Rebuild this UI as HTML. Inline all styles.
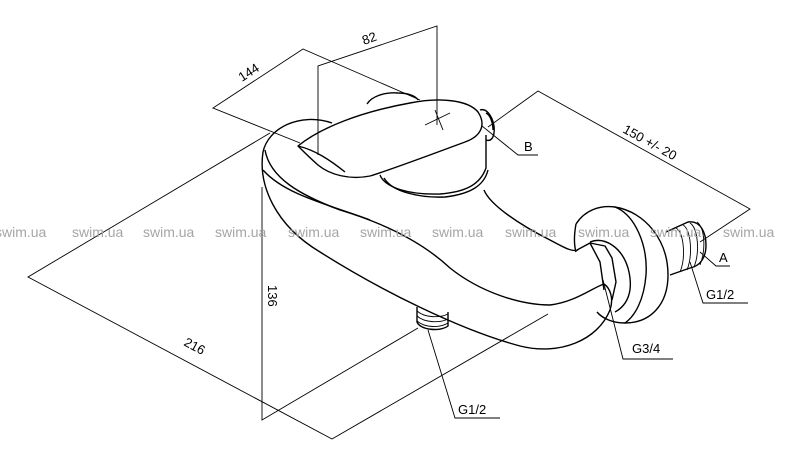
<!DOCTYPE html>
<html><head><meta charset="utf-8"><style>
html,body{margin:0;padding:0;background:#fff;}
svg{display:block;}
.d{fill:none;stroke:#000;stroke-width:0.9;}
.b{fill:none;stroke:#000;stroke-width:1.4;stroke-linejoin:round;}
.t{font-family:"Liberation Sans",sans-serif;font-size:13px;fill:#000;}
.w{font-family:"Liberation Sans",sans-serif;font-size:14px;fill:#a5a5a5;}
</style></head><body>
<svg width="800" height="464" viewBox="0 0 800 464" xmlns="http://www.w3.org/2000/svg">
<polyline class="d" points="300,143 213,108 303,49 420,100"/>
<polyline class="d" points="318,155 318,66 437,26 437,125"/>
<polyline class="d" points="488,127 538,91 750,209 700,242"/>
<polyline class="d" points="270,133 28,277 332,439 548,314"/>
<polyline class="d" points="262,187 262,420 418,328"/>
<polyline class="d" points="482,126 518,155 538,155"/>
<polyline class="d" points="700,252 716,266 730,266"/>
<polyline class="d" points="690,262 703,303 748,303"/>
<polyline class="d" points="603,280 623,359 673,359"/>
<polyline class="d" points="428,330 455,418 500,418"/>
<text class="t" transform="translate(242,82) rotate(-33)">144</text>
<text class="t" transform="translate(364,45) rotate(-20)">82</text>
<text class="t" transform="translate(622,132) rotate(29)">150 +/- 20</text>
<text class="t" transform="translate(183,345) rotate(28)">216</text>
<text class="t" transform="translate(268,285) rotate(90)">136</text>
<text class="t" x="524" y="151">B</text>
<text class="t" x="719" y="262">A</text>
<text class="t" x="706" y="299">G1/2</text>
<text class="t" x="632" y="353">G3/4</text>
<text class="t" x="458" y="414">G1/2</text>
<!-- body -->
<path class="b" d="M332,123 C300,112 268,128 263,152 C258,185 275,225 320,252 C380,290 460,330 520,346 C560,356 598,340 610,310 C614,298 610,288 604,284"/>
<path class="b" d="M265,150 C270,178 300,195 340,210 C380,222 420,240 450,268 C480,292 520,305 550,305 C575,302 592,288 604,284"/>
<path class="b" d="M263,170 C285,195 330,205 370,220"/>
<path class="b" d="M484,190 C490,205 520,225 550,240 C565,248 572,252 578,250"/>
<!-- handle -->
<path class="b" d="M298,146 C320,128 360,112 410,103 C440,97 468,100 478,112 C486,124 482,136 465,142 C430,155 390,170 370,176 C350,180 330,175 318,165 C310,158 302,150 298,146 Z"/>
<path class="b" d="M298,146 C315,150 330,160 345,172"/>
<path class="b" d="M367,104 C372,96 385,92 398,93 C408,93 416,96 418,100"/>
<path class="b" d="M380,175 C385,188 410,195 440,194 C465,192 480,185 486,168 L486,135"/>
<path class="b" d="M384,178 C392,192 420,198 445,197 C470,194 484,186 488,170"/>
<path class="d" d="M425,125 L450,113 M435,110 L443,130"/>
<path class="b" d="M480,110 C486,108 492,115 494,126 C495,136 492,142 486,140"/>
<path class="b" d="M486,113 C490,115 493,122 493,130"/>
<!-- right ring -->
<path class="b" d="M576,224 C585,210 600,205 615,207 C645,212 668,240 668,275 C668,305 650,323 625,323 C612,323 602,318 597,312"/>
<path class="b" d="M576,224 C574,235 574,245 576,252"/>
<path class="b" d="M615,207 C635,215 648,245 646,275 C644,300 635,316 625,323"/>
<path class="b" d="M590,242 C605,236 622,248 628,268 C634,290 628,305 615,312"/>
<path class="b" d="M577,250 L590,243 L605,246 L612,258 L616,282 L612,300"/>
<path class="b" d="M590,243 L600,262 L604,290"/>
<!-- right thread -->
<path class="b" d="M666,232 L688,222 C700,220 706,232 706,245 C706,258 700,266 690,268 L670,275"/>
<path class="d" d="M676,228 C684,232 686,258 680,272 M683,225 C691,229 693,255 687,270 M690,223 C698,228 700,252 694,267 M697,222 C705,228 706,250 700,265"/>
<!-- bottom thread -->
<path class="b" d="M417,307 L417,322 C420,330 440,332 448,326 L448,312"/>
<path class="d" d="M417,311 C425,318 440,318 448,314 M417,316 C425,323 440,323 448,319 M417,321 C425,328 440,328 448,323"/>
<g class="w">
<text x="-5" y="237">swim.ua</text><text x="72" y="237">swim.ua</text><text x="143" y="237">swim.ua</text>
<text x="215" y="237">swim.ua</text><text x="288" y="237">swim.ua</text><text x="360" y="237">swim.ua</text>
<text x="432" y="237">swim.ua</text><text x="505" y="237">swim.ua</text><text x="578" y="237">swim.ua</text>
<text x="650" y="237">swim.ua</text><text x="723" y="237">swim.ua</text>
</g>
</svg>
</body></html>
